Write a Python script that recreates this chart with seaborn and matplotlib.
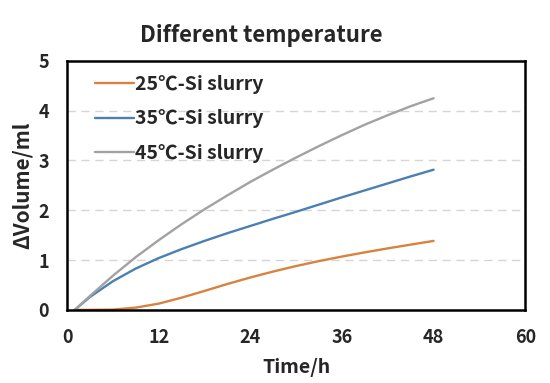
import numpy as np
import pandas as pd
import seaborn as sns
import matplotlib.pyplot as plt

# time points (h)
time_h = [1, 3, 6, 9, 12, 15, 18, 21, 24, 27, 30, 33, 36, 39, 42, 45, 48]

vol_25 = [0.0, 0.0, 0.005, 0.045, 0.125, 0.245, 0.38, 0.52, 0.65, 0.77, 0.88, 0.98, 1.07, 1.155, 1.235, 1.31, 1.385]
vol_35 = [0.0, 0.26, 0.575, 0.83, 1.04, 1.22, 1.385, 1.54, 1.685, 1.83, 1.97, 2.115, 2.26, 2.40, 2.54, 2.68, 2.815]
vol_45 = [0.0, 0.28, 0.685, 1.06, 1.40, 1.72, 2.02, 2.30, 2.57, 2.82, 3.06, 3.29, 3.51, 3.72, 3.91, 4.09, 4.25]

labels = ["25℃-Si slurry", "35℃-Si slurry", "45℃-Si slurry"]
colors = ["#D8823F", "#4A80B2", "#A2A2A2"]

x_ticks = [0, 12, 24, 36, 48, 60]
y_ticks = [0, 1, 2, 3, 4, 5]

frames = []
for lab, vals in zip(labels, [vol_25, vol_35, vol_45]):
    frames.append(pd.DataFrame({"Time": time_h, "Volume": vals, "Sample": lab}))
df = pd.concat(frames, ignore_index=True)

sns.set_style("white")
plt.rcParams["font.family"] = ["Noto Sans CJK SC", "DejaVu Sans"]
plt.rcParams["font.weight"] = "bold"

fig = plt.figure(figsize=(5.5, 3.83), dpi=100)
ax = fig.add_axes([0.122, 0.191, 0.833, 0.650])

sns.lineplot(data=df, x="Time", y="Volume", hue="Sample", palette=colors,
             linewidth=1.7, ax=ax)

ax.set_xlim(0, 60)
ax.set_ylim(0, 5)
ax.set_xticks(x_ticks)
ax.set_yticks(y_ticks)
ax.tick_params(axis="both", length=0, labelsize=13)
ax.tick_params(axis="x", pad=13)
ax.tick_params(axis="y", pad=13)
for lab in ax.get_xticklabels() + ax.get_yticklabels():
    lab.set_fontweight("bold")

for yv in [1, 2, 3, 4]:
    ax.axhline(yv, color="#D6D6D6", lw=1.0, ls=(0, (6, 4)), zorder=0)

for sp in ax.spines.values():
    sp.set_color("black")
    sp.set_linewidth(1.8)

ax.set_xlabel("Time/h", fontsize=14, fontweight="bold", labelpad=8)
ax.set_ylabel("ΔVolume/ml", fontsize=15, fontweight="bold", labelpad=4)

leg = ax.legend(loc="upper left", bbox_to_anchor=(0.045, 0.975), frameon=False,
                fontsize=14, handlelength=2.0, handletextpad=0.05,
                labelspacing=0.8, borderaxespad=0)
for t in leg.get_texts():
    t.set_fontweight("bold")

fig.text(0.475, 0.908, "Different temperature", ha="center", va="center",
         fontsize=16, fontweight="bold")

fig.savefig("out.png", dpi=100)
